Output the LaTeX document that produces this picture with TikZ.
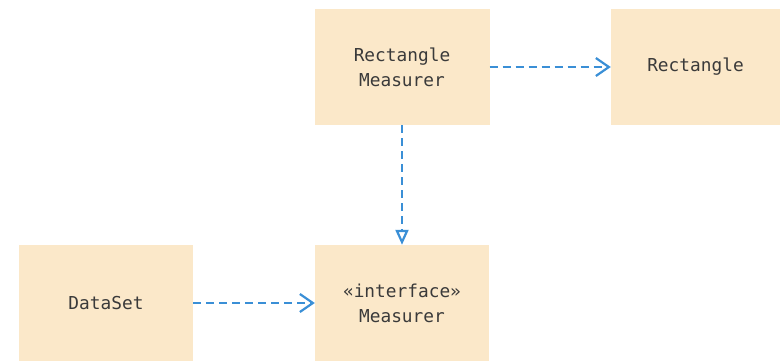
\documentclass[tikz,border=0pt]{standalone}
\usepackage{fontspec}
\setmonofont{DejaVu Sans Mono}
\usetikzlibrary{arrows.meta}
\definecolor{boxfill}{HTML}{FBE8C9}
\definecolor{linkblue}{HTML}{3A8FD6}
\definecolor{txt}{HTML}{3A3A3A}
\begin{document}
\begin{tikzpicture}[x=1pt,y=-1pt,
  cls/.style={fill=boxfill, draw=none, minimum width=175pt, minimum height=116pt, inner sep=0pt,
    font=\ttfamily\fontsize{17.8}{25}\selectfont, text=txt, align=center},
  dep/.style={draw=linkblue, line width=2.2pt, dash pattern=on 8pt off 5pt,
    -{Straight Barb[length=13pt,width=18pt,line width=2.2pt]}},
  real/.style={draw=linkblue, line width=2.2pt, dash pattern=on 8pt off 5pt,
    -{Triangle[open,length=15pt,width=13pt,line width=2.2pt]}}]
\useasboundingbox (0,0) rectangle (780,360);
\clip (0,0) rectangle (780,360);
\node[cls] (rm) at (402,67) {Rectangle\\Measurer};
\node[cls, minimum width=169pt] (r) at (695.5,67) {Rectangle};
\node[cls, minimum width=174pt] (ds) at (106,303) {DataSet};
\node[cls, minimum width=174pt] (m) at (402,303) {«interface»\\Measurer};
\draw[dep] (rm.east) -- (r.west);
\draw[real] (rm.south) -- (m.north);
\draw[dep] (ds.east) -- (m.west);
\end{tikzpicture}
\end{document}
